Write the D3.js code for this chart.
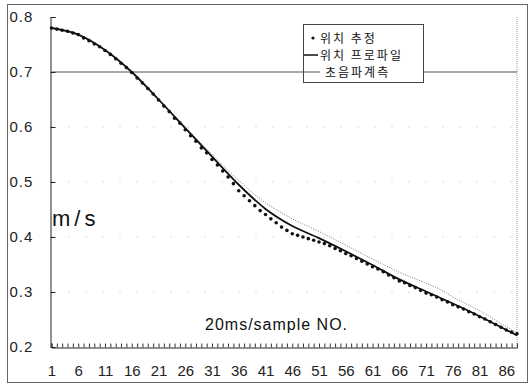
<!DOCTYPE html>
<html>
<head>
<meta charset="utf-8">
<script src="https://cdn.jsdelivr.net/npm/d3@7"></script>
<style>
  body { margin: 0; background: #fff; }
  svg { display: block; font-family: 'Liberation Sans', Arial, sans-serif; }
</style>
</head>
<body>
<div id="chart"></div>
<script>
// DATA
let samples = d3.range(1, 89)
let xLabels = [1, 6, 11, 16, 21, 26, 31, 36, 41, 46, 51, 56, 61, 66, 71, 76, 81, 86]
let yTicks = [0.2, 0.3, 0.4, 0.5, 0.6, 0.7, 0.8]
let gridValues = [0.3, 0.4, 0.5, 0.6]
let refValue = 0.7

// position estimate (dots), one per sample
let estimated = [
  0.780, 0.778, 0.776, 0.774, 0.771, 0.768, 0.762, 0.757, 0.751, 0.746,
  0.739, 0.732, 0.724, 0.716, 0.708, 0.699, 0.689, 0.680, 0.670, 0.660,
  0.649, 0.638, 0.628, 0.616, 0.607, 0.595, 0.584, 0.574, 0.562, 0.553,
  0.541, 0.531, 0.520, 0.509, 0.497, 0.484, 0.475, 0.466, 0.457, 0.448,
  0.441, 0.433, 0.426, 0.418, 0.412, 0.406, 0.403, 0.400, 0.397, 0.394,
  0.391, 0.388, 0.384, 0.379, 0.375, 0.370, 0.366, 0.361, 0.356, 0.351,
  0.346, 0.342, 0.337, 0.331, 0.326, 0.320, 0.317, 0.312, 0.308, 0.303,
  0.298, 0.295, 0.291, 0.286, 0.282, 0.277, 0.273, 0.269, 0.264, 0.260,
  0.255, 0.251, 0.246, 0.241, 0.236, 0.231, 0.227, 0.224
]

// position profile (solid line)
let profileX = [1, 6, 11, 16, 21, 26, 31, 36, 41, 46, 51, 56, 61, 66, 71, 76, 81, 86, 88]
let profile = [0.780, 0.768, 0.740, 0.700, 0.650, 0.598, 0.546, 0.495, 0.451, 0.420,
  0.398, 0.374, 0.349, 0.323, 0.301, 0.279, 0.256, 0.231, 0.221]

// ultrasonic measurement (thin dotted line)
let sonicX = [1, 6, 11, 16, 21, 26, 31, 36, 41, 44, 46, 51, 56, 61, 66, 71, 74, 76, 81, 86, 88]
let sonic = [0.780, 0.768, 0.740, 0.700, 0.651, 0.600, 0.550, 0.503, 0.462, 0.444, 0.433,
  0.410, 0.385, 0.360, 0.336, 0.316, 0.303, 0.291, 0.266, 0.237, 0.226]

let legendLabels = ['위치 추정', '위치 프로파일', '초음파계측']

// CHART SETUP
let width = 530, height = 385

let svg = d3.select('#chart')
  .append('svg')
  .attr('width', width)
  .attr('height', height)

let x = d3.scaleLinear().domain([1, 88]).range([51.5, 517])
let y = d3.scaleLinear().domain([0.2, 0.8]).range([347, 17])

// outer frame
svg.append('rect')
  .attr('x', 7.5).attr('y', 4.5)
  .attr('width', 520).attr('height', 378)
  .style('fill', 'none')
  .style('stroke', '#666')
  .style('stroke-width', 1)

// faint grid
svg.selectAll('.grid')
  .data(gridValues)
  .enter().append('line')
  .attr('class', 'grid')
  .attr('x1', x(1)).attr('x2', x(88))
  .attr('y1', d => y(d)).attr('y2', d => y(d))
  .style('stroke', '#bbb')
  .style('stroke-dasharray', '1,16')

// right border of the plot
svg.append('line')
  .attr('x1', x(88)).attr('x2', x(88))
  .attr('y1', y(0.8)).attr('y2', y(0.2))
  .style('stroke', '#999')
  .style('stroke-dasharray', '1,1')

// reference line at 0.7
svg.append('line')
  .attr('x1', x(1)).attr('x2', x(88))
  .attr('y1', y(refValue)).attr('y2', y(refValue))
  .style('stroke', '#555')
  .style('stroke-width', 1)

// AXES
let yAxis = svg.append('g')
  .attr('transform', 'translate(50.5,0)')
  .call(d3.axisLeft(y).tickValues(yTicks).tickSize(-5).tickFormat(d3.format('.1f')))
yAxis.select('.domain').style('stroke', '#222')
yAxis.selectAll('.tick line').style('stroke', '#222')
yAxis.selectAll('text')
  .attr('x', -41)
  .style('text-anchor', 'start')
  .style('font-size', '15px')
  .style('letter-spacing', '1px')
  .style('fill', '#222')

let xAxis = svg.append('g')
  .attr('transform', 'translate(0,347.5)')
  .call(d3.axisBottom(x).tickValues(samples).tickSize(-4).tickPadding(18)
    .tickFormat(d => xLabels.indexOf(d) >= 0 ? d : ''))
xAxis.select('.domain').style('stroke', '#222')
xAxis.selectAll('.tick line').style('stroke', '#333')
xAxis.selectAll('text')
  .style('font-size', '15px')
  .style('fill', '#222')

// SERIES
let line = d3.line().curve(d3.curveMonotoneX)

svg.append('path')
  .datum(sonicX.map((s, i) => [x(s), y(sonic[i])]))
  .attr('d', line)
  .style('fill', 'none')
  .style('stroke', '#777')
  .style('stroke-width', 1)
  .style('stroke-dasharray', '1,1.5')

svg.append('path')
  .datum(profileX.map((s, i) => [x(s), y(profile[i])]))
  .attr('d', line)
  .style('fill', 'none')
  .style('stroke', '#111')
  .style('stroke-width', 1.8)

svg.selectAll('.est')
  .data(estimated)
  .enter().append('circle')
  .attr('class', 'est')
  .attr('cx', (d, i) => x(samples[i]))
  .attr('cy', d => y(d))
  .attr('r', 1.8)
  .style('fill', '#111')

// TEXT LABELS
svg.append('text')
  .attr('x', 52).attr('y', 226)
  .style('font-size', '22px')
  .style('letter-spacing', '4px')
  .style('fill', '#111')
  .text('m/s')

svg.append('text')
  .attr('x', 205).attr('y', 330)
  .style('font-size', '16px')
  .style('letter-spacing', '1px')
  .style('fill', '#111')
  .text('20ms/sample NO.')

// LEGEND
let legend = svg.append('g')
legend.append('rect')
  .attr('x', 303.5).attr('y', 24.5)
  .attr('width', 120).attr('height', 58)
  .style('fill', '#fff')
  .style('stroke', '#444')

let rowY = [38, 55, 72]
legend.append('circle')
  .attr('cx', 313).attr('cy', rowY[0])
  .attr('r', 1.6)
  .style('fill', '#111')
legend.append('line')
  .attr('x1', 304).attr('x2', 318)
  .attr('y1', rowY[1]).attr('y2', rowY[1])
  .style('stroke', '#111').style('stroke-width', 1.5)
legend.append('line')
  .attr('x1', 304).attr('x2', 320)
  .attr('y1', rowY[2]).attr('y2', rowY[2])
  .style('stroke', '#555').style('stroke-width', 1)

legend.selectAll('.leg-text')
  .data(legendLabels)
  .enter().append('text')
  .attr('class', 'leg-text')
  .attr('x', (d, i) => i === 2 ? 325 : 320)
  .attr('y', (d, i) => rowY[i] + 4.5)
  .style('font-family', "'Noto Sans CJK KR', sans-serif")
  .style('font-size', '12px')
  .style('letter-spacing', '2px')
  .style('fill', '#111')
  .text(d => d)
</script>
</body>
</html>
